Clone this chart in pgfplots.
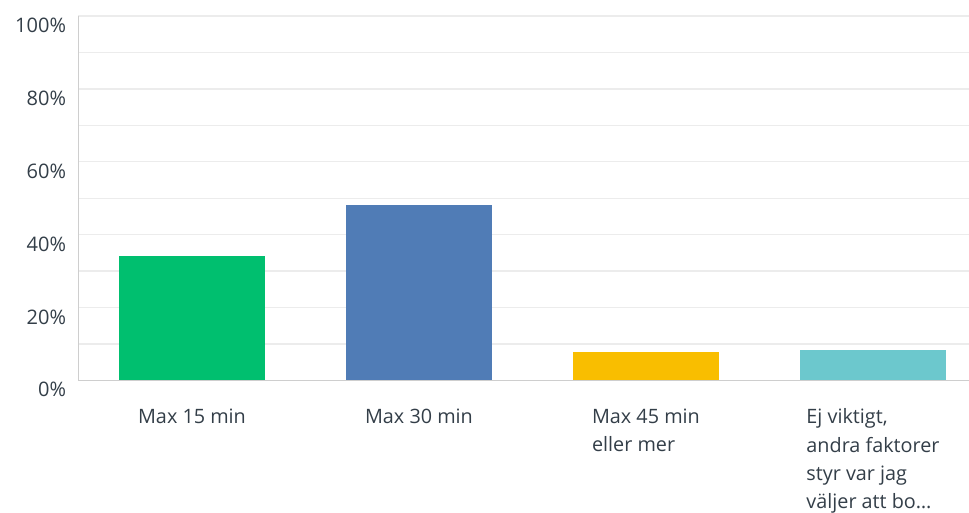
\documentclass[border=0pt]{standalone}
\usepackage{pgfplots}
\pgfplotsset{compat=1.18}
\usepackage{fontspec}
\setmainfont{Open Sans}
\definecolor{txt}{RGB}{51,62,72}
\definecolor{gridc}{RGB}{236,236,236}
\definecolor{axc}{RGB}{206,206,206}
\definecolor{cgreen}{RGB}{0,191,111}
\definecolor{cblue}{RGB}{80,124,182}
\definecolor{cyellow}{RGB}{249,190,0}
\definecolor{cteal}{RGB}{108,200,205}
\begin{document}
\begin{tikzpicture}[x=1pt,y=1pt]
\path[use as bounding box] (0,0) rectangle (969,512);
\begin{axis}[
  at={(78.5pt,131.7pt)}, anchor=south west,
  scale only axis, width=890.5pt, height=364.3pt,
  xmin=-0.5, xmax=3.423, ymin=0, ymax=100,
  axis x line=bottom, axis y line=left,
  axis line style={axc, line width=1.5pt, -},
  ytick={0,20,...,100}, minor ytick={10,30,...,90},
  yticklabels={0\%,20\%,40\%,60\%,80\%,100\%},
  grid=both,
  major grid style={gridc, line width=1.3pt},
  minor grid style={gridc, line width=1.3pt},
  xmajorgrids=false, xminorgrids=false,
  major tick length=0pt, minor tick length=0pt,
  xtick={0,1,2,3},
  xticklabels={{Max 15 min},{Max 30 min},{Max 45 min\\eller mer},{Ej viktigt,\\andra faktorer\\styr var jag\\väljer att bo…}},
  xticklabel style={font=\fontsize{19.8}{28.3}\selectfont, text=txt, anchor=north, align=left, yshift=-25pt},
  yticklabel style={font=\fontsize{20}{24}\selectfont, text=txt, xshift=-9pt, yshift=-9.5pt},
  ybar, bar width=146pt, bar shift=0pt,
]
\addplot[fill=cgreen, draw=none] coordinates {(0,34.1)};
\addplot[fill=cblue, draw=none] coordinates {(1,48.0)};
\addplot[fill=cyellow, draw=none] coordinates {(2,7.75)};
\addplot[fill=cteal, draw=none] coordinates {(3,8.3)};
\end{axis}
\end{tikzpicture}
\end{document}
